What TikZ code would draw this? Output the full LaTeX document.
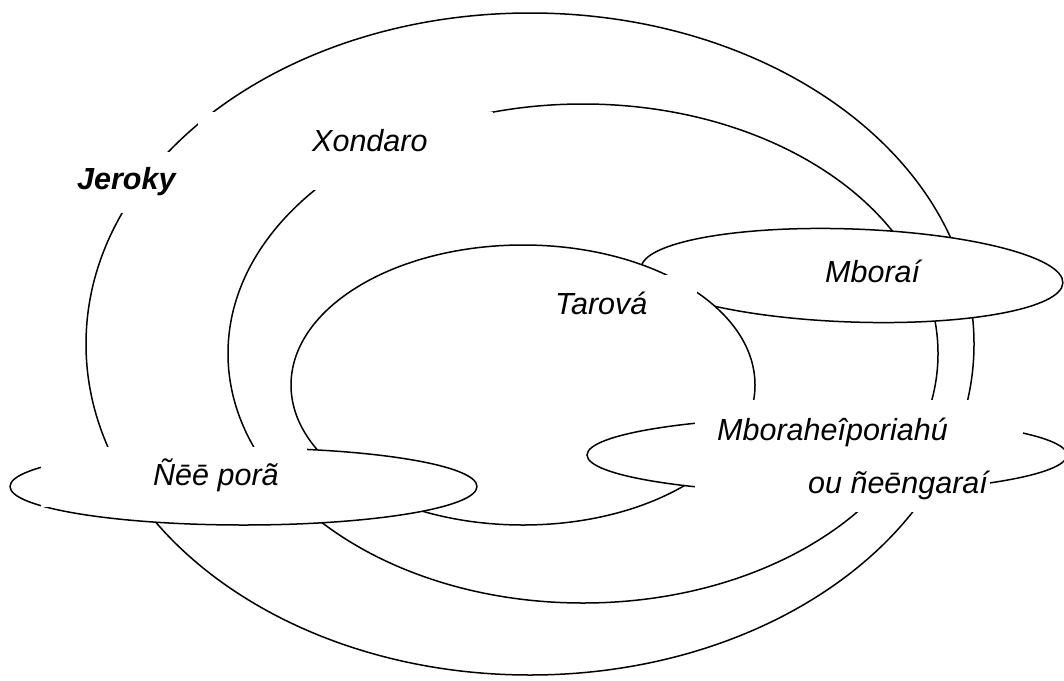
\documentclass[tikz,border=0pt]{standalone}
\usepackage{fontspec}
\setmainfont{Liberation Sans}
\usepackage{tikz}
\tikzset{ring/.style = {draw, fill = white, line width = 1.5pt},
         mask/.style = {fill = white},
         word/.style = {anchor = base west, inner sep = 0pt, font = \fontsize{30.5}{36}\selectfont\itshape}}

\begin{document}
\begin{tikzpicture}[x = 1pt, y = -1pt]
    \useasboundingbox (0, 0) rectangle (1064, 680);
    \clip (0, 0) rectangle (1064, 680);
    % ellipses, back to front
    \foreach \cx\cy\rx\ry\r in {530/344/444/331/0, 583/353.5/355/249.5/0, 852/275.5/211/46.5/-2, 523/385/232/140/0, 827/455/240/38/0, 243.5/486.5/233.5/38.5/0} {
        \filldraw [ring] (\cx, \cy) ellipse [x radius = \rx pt, y radius = \ry pt, rotate = \r];
    }
    % white boxes that cut the lines behind the labels
    \foreach \xa\ya\xb\yb in {70/152/200/213, 198/112/493/190, 520/275/697/330, 41/447/307/507, 695/400/1023/465, 695/465/990/512} {
        \fill [mask] (\xa, \ya) rectangle (\xb, \yb);
    }
    \node [word, font = \fontsize{30.5}{36}\selectfont\bfseries\itshape] (jeroky) at (77, 189) {Jeroky};
    \node [word] (xondaro) at (312, 151) {Xondaro};
    \node [word] (tarova) at (555, 314) {Tarová};
    \node [word] (mborai) at (825, 282) {Mboraí};
    \node [word] (neepora) at (153, 485) {Ñēē porã};
    \node [word] (mboraheiporiahu) at (717, 440) {Mboraheîporiahú};
    \node [word] (neengarai) at (808, 493) {ou ñeēngaraí};
\end{tikzpicture}
\end{document}
